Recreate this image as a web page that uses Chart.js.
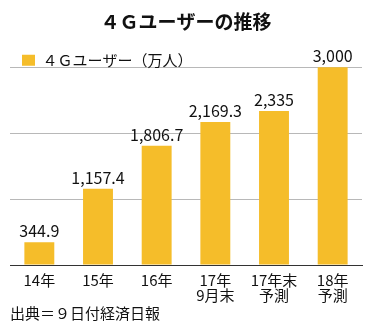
<!DOCTYPE html>
<html lang="ja">
<head>
<meta charset="utf-8">
<title>4Gユーザーの推移</title>
<script src="https://cdn.jsdelivr.net/npm/chart.js@4/dist/chart.umd.min.js"></script>
<style>
  html, body { margin: 0; padding: 0; background: #fff; }
  #wrap { width: 378px; height: 325px; }
</style>
</head>
<body>
<div id="wrap"><canvas id="chart" width="378" height="325"></canvas></div>
<script>
// 4G users (10k people), yearly plus 2017 forecasts
const periods = [["14年"], ["15年"], ["16年"], ["17年", "9月末"], ["17年末", "予測"], ["18年", "予測"]];
const users = [344.9, 1157.4, 1806.7, 2169.3, 2335, 3000];
const yTicks = [0, 1000, 2000, 3000];
// headroom above the 3000 line for the legend row
const yMax = 3400;

const FONT = "'Noto Sans CJK JP', 'Noto Sans', sans-serif";
const BAR = "#f5bd2a";
const INK = "#111";

const fmt = new Intl.NumberFormat("en-US", { maximumFractionDigits: 1 });

// value above each bar
const barValues = {
  id: "barValues",
  afterDatasetsDraw(chart) {
    const ctx = chart.ctx;
    const meta = chart.getDatasetMeta(0);
    ctx.save();
    ctx.font = `16px ${FONT}`;
    ctx.fillStyle = INK;
    ctx.textAlign = "center";
    ctx.textBaseline = "alphabetic";
    meta.data.forEach((bar, i) => {
      ctx.fillText(fmt.format(users[i]), bar.x, bar.y - 5);
    });
    ctx.restore();
  }
};

// the chartArea legend gets reset to y=0 on update; pin it to the plot top
const pinLegend = {
  id: "pinLegend",
  afterLayout(chart) {
    const lg = chart.legend;
    if (!lg) return;
    const h = lg.height;
    lg.top = chart.chartArea.top;
    lg.bottom = lg.top + h;
  }
};

new Chart(document.getElementById("chart"), {
  type: "bar",
  data: {
    labels: periods,
    datasets: [{
      label: "４Ｇユーザー（万人）",
      data: users,
      backgroundColor: BAR,
      borderWidth: 0,
      barPercentage: 0.51,
      categoryPercentage: 1
    }]
  },
  options: {
    responsive: false,
    animation: false,
    layout: { padding: { left: 10, right: 16, top: 0, bottom: 3 } },
    plugins: {
      title: {
        display: true,
        text: "４Ｇユーザーの推移",
        color: INK,
        font: { family: FONT, size: 19, weight: "bold" },
        padding: { top: 10, bottom: 8 }
      },
      subtitle: {
        display: true,
        position: "bottom",
        align: "start",
        text: "出典＝９日付経済日報",
        color: INK,
        font: { family: FONT, size: 15 },
        padding: { top: -7, bottom: 0 }
      },
      legend: {
        display: true,
        position: "chartArea",
        align: "start",
        labels: {
          color: INK,
          font: { family: FONT, size: 15 },
          boxWidth: 13,
          boxHeight: 11,
          padding: 12
        }
      },
      tooltip: { enabled: false }
    },
    scales: {
      x: {
        grid: { display: false, drawTicks: false },
        border: { display: true, color: "#333", width: 1 },
        ticks: {
          color: INK,
          font: { family: FONT, size: 15, lineHeight: 1 },
          padding: 8,
          maxRotation: 0,
          autoSkip: false
        }
      },
      y: {
        min: 0,
        max: yMax,
        afterBuildTicks: (axis) => { axis.ticks = yTicks.map(v => ({ value: v })); },
        ticks: { display: false },
        border: { display: false },
        grid: { color: "#b8b8b8", lineWidth: 1, drawTicks: false }
      }
    }
  },
  plugins: [barValues, pinLegend]
});
</script>
</body>
</html>
